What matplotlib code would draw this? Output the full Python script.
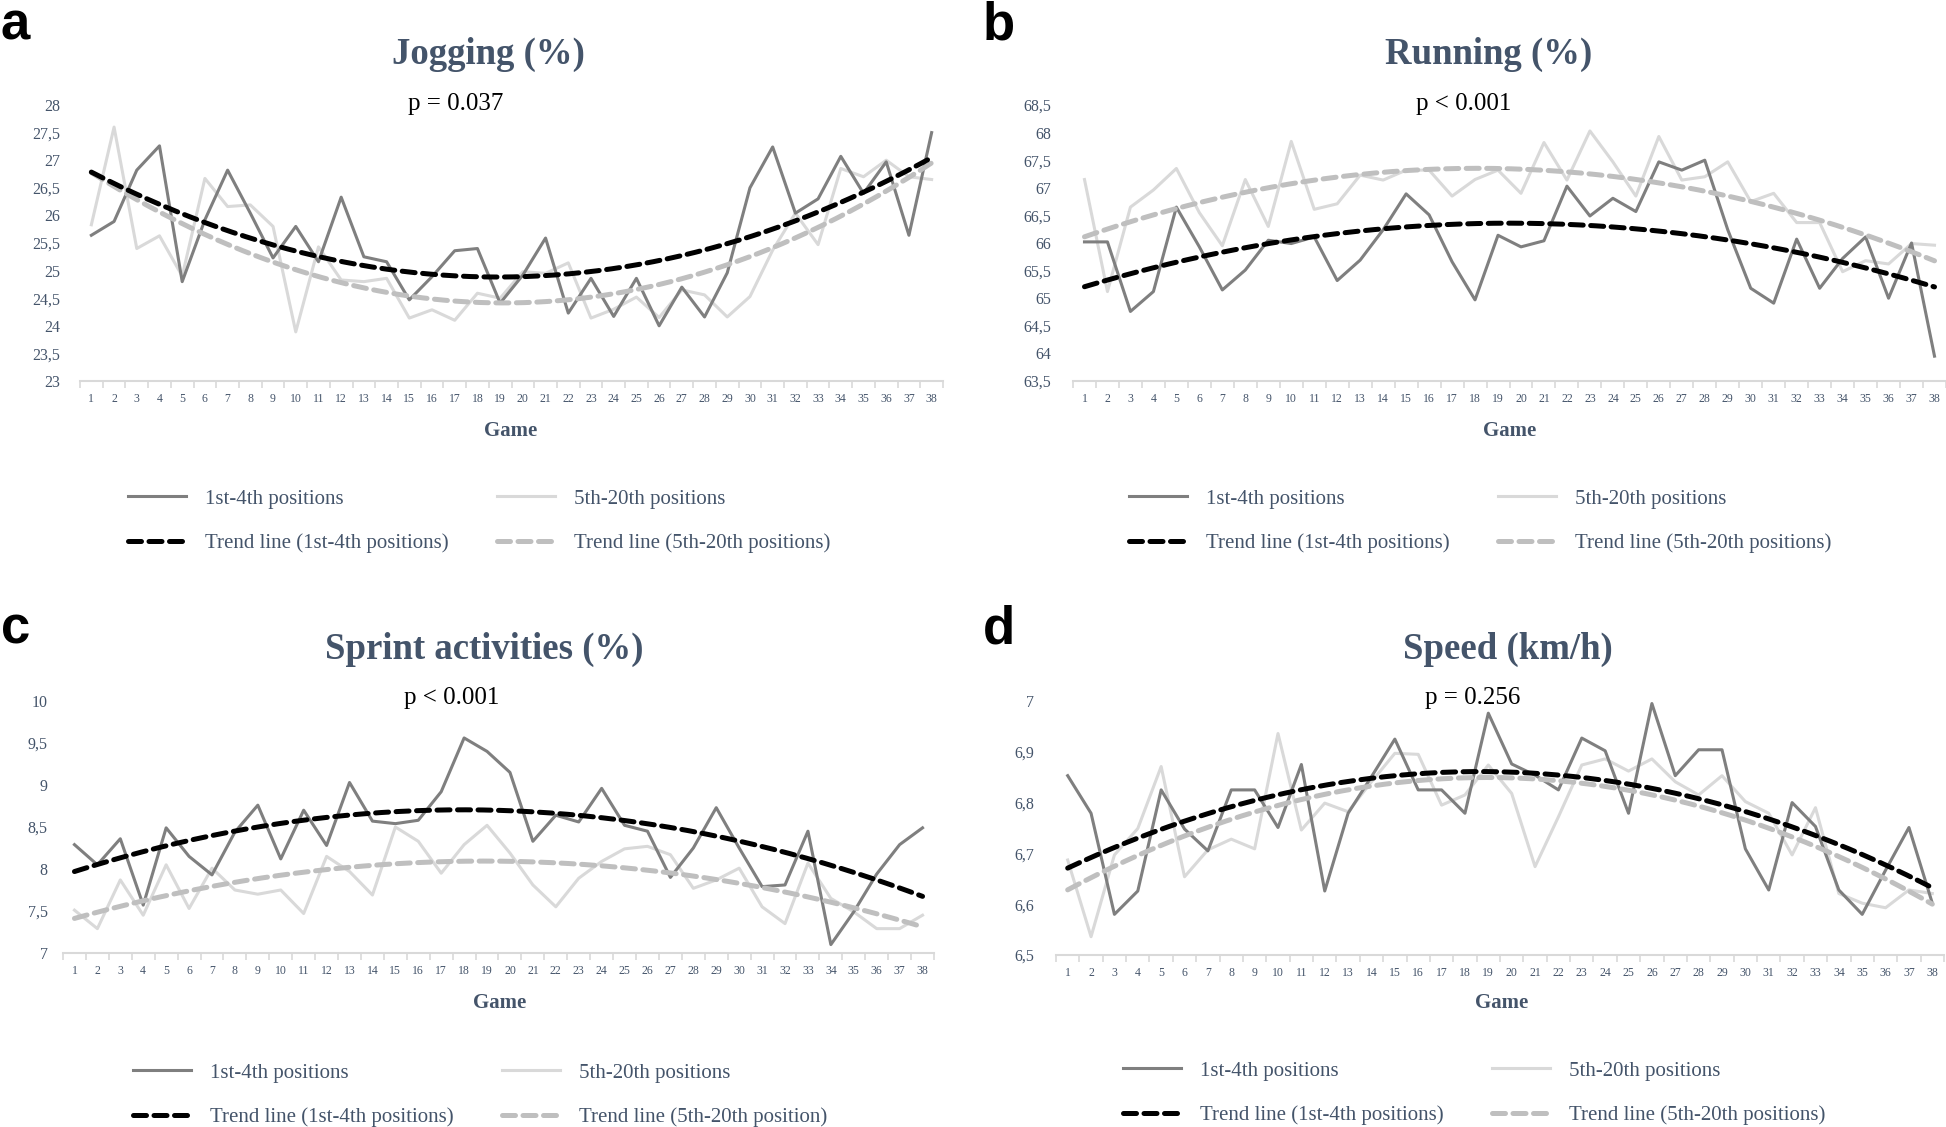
import numpy as np
import matplotlib
matplotlib.use("Agg")
import matplotlib.pyplot as plt
from matplotlib.ticker import FixedLocator

games = list(range(1, 39))

# jogging (%)
jog_top = [25.64, 25.89, 26.82, 27.26, 24.8, 25.92, 26.82, 26.04, 25.23, 25.8,
           25.16, 26.33, 25.25, 25.16, 24.47, 24.89, 25.36, 25.4, 24.41, 24.92,
           25.59, 24.23, 24.86, 24.17, 24.86, 24.0, 24.7, 24.16, 24.96, 26.5,
           27.24, 26.04, 26.3, 27.07, 26.4, 26.97, 25.64, 27.5]
jog_rest = [25.83, 27.6, 25.4, 25.63, 24.9, 26.67, 26.16, 26.19, 25.8, 23.89,
            25.43, 24.83, 24.8, 24.86, 24.14, 24.29, 24.1, 24.59, 24.5, 24.98,
            24.95, 25.14, 24.14, 24.3, 24.52, 24.15, 24.65, 24.56, 24.16, 24.53,
            25.37, 26.04, 25.47, 26.85, 26.7, 27.0, 26.7, 26.65]

# running (%)
run_top = [66.02, 66.02, 64.76, 65.12, 66.65, 65.93, 65.15, 65.51, 66.05, 65.99,
           66.11, 65.32, 65.69, 66.24, 66.89, 66.51, 65.66, 64.97, 66.14, 65.93,
           66.04, 67.03, 66.49, 66.81, 66.57, 67.47, 67.32, 67.5, 66.24, 65.18,
           64.91, 66.07, 65.18, 65.72, 66.11, 65.0, 66.0, 63.95]
run_rest = [67.15, 65.12, 66.65, 66.96, 67.35, 66.55, 65.95, 67.15, 66.3, 67.84,
            66.61, 66.71, 67.23, 67.14, 67.32, 67.32, 66.85, 67.15, 67.32, 66.9,
            67.82, 67.14, 68.03, 67.47, 66.85, 67.93, 67.14, 67.2, 67.47, 66.75,
            66.9, 66.37, 66.37, 65.48, 65.68, 65.62, 65.99, 65.96]

# sprint activities (%)
spr_top = [8.29, 8.05, 8.36, 7.57, 8.49, 8.15, 7.93, 8.44, 8.76, 8.12,
           8.7, 8.28, 9.03, 8.57, 8.54, 8.58, 8.92, 9.56, 9.4, 9.15,
           8.33, 8.64, 8.56, 8.96, 8.52, 8.45, 7.9, 8.25, 8.73, 8.25,
           7.79, 7.81, 8.45, 7.1, 7.49, 7.94, 8.29, 8.49]
spr_rest = [7.51, 7.29, 7.87, 7.45, 8.05, 7.53, 8.01, 7.75, 7.7, 7.75,
            7.47, 8.15, 7.97, 7.69, 8.5, 8.33, 7.95, 8.29, 8.52, 8.19,
            7.81, 7.55, 7.89, 8.09, 8.24, 8.27, 8.17, 7.77, 7.87, 8.01,
            7.55, 7.35, 8.07, 7.65, 7.49, 7.29, 7.29, 7.45]

# speed (km/h)
spd_top = [6.853, 6.779, 6.58, 6.626, 6.825, 6.748, 6.705, 6.825, 6.825, 6.751,
           6.875, 6.626, 6.779, 6.851, 6.925, 6.825, 6.825, 6.779, 6.976, 6.876,
           6.854, 6.825, 6.927, 6.902, 6.779, 6.995, 6.853, 6.904, 6.904, 6.709,
           6.628, 6.8, 6.753, 6.628, 6.58, 6.667, 6.751, 6.602]
spd_rest = [6.687, 6.536, 6.697, 6.749, 6.871, 6.654, 6.707, 6.728, 6.709, 6.936,
            6.746, 6.799, 6.782, 6.841, 6.897, 6.895, 6.795, 6.815, 6.874, 6.818,
            6.674, 6.772, 6.874, 6.886, 6.862, 6.886, 6.841, 6.815, 6.853, 6.802,
            6.779, 6.697, 6.79, 6.621, 6.602, 6.593, 6.628, 6.621]

jog_ticks = [23, 23.5, 24, 24.5, 25, 25.5, 26, 26.5, 27, 27.5, 28]
run_ticks = [63.5, 64, 64.5, 65, 65.5, 66, 66.5, 67, 67.5, 68, 68.5]
spr_ticks = [7, 7.5, 8, 8.5, 9, 9.5, 10]
spd_ticks = [6.5, 6.6, 6.7, 6.8, 6.9, 7]

W, H = 1946, 1127
SLATE = "#44546A"
SERIF = ["Liberation Serif", "DejaVu Serif"]
plt.rcParams["font.family"] = SERIF

fig = plt.figure(figsize=(W / 100, H / 100), dpi=100)


def fx(px):
    return px / W


def fy(py):
    return 1 - py / H


def panel(rect, top, rest, ticks, letter, letter_xy, title, title_xy, ptxt, p_xy,
          game_xy, leg_xy, leg_labels, ypad):
    ax = fig.add_axes([fx(rect[0]), fy(rect[3]), fx(rect[1] - rect[0]), (rect[3] - rect[2]) / H])
    x = np.array(games)
    xs = np.linspace(1, 38, 300)
    l1, = ax.plot(games, top, color="#7F7F7F", lw=2.2, zorder=3)
    l2, = ax.plot(games, rest, color="#D9D9D9", lw=2.2, zorder=2)
    # polynomial (order 2) trend lines, as in the original spreadsheet
    c1 = np.polyfit(x, top, 2)
    c2 = np.polyfit(x, rest, 2)
    t2, = ax.plot(xs, np.polyval(c2, xs), color="#BFBFBF", lw=3.6, dashes=(2.6, 1.5),
                  dash_capstyle="round", zorder=4)
    t1, = ax.plot(xs, np.polyval(c1, xs), color="black", lw=3.6, dashes=(2.6, 1.5),
                  dash_capstyle="round", zorder=5)

    ax.set_xlim(0.5, 38.5)
    ax.set_ylim(ticks[0], ticks[-1])
    ax.set_yticks(ticks)
    ax.set_yticklabels([("%g" % t).replace(".", ",") for t in ticks])
    ax.set_xticks(games)
    ax.set_xticklabels([str(g) for g in games])
    ax.xaxis.set_minor_locator(FixedLocator(np.arange(0.5, 39, 1)))
    ax.tick_params(axis="x", which="major", length=0, pad=9, labelsize=8.5, labelcolor=SLATE)
    ax.tick_params(axis="x", which="minor", length=5, color="#D9D9D9", width=1.2)
    ax.tick_params(axis="y", length=0, pad=ypad, labelsize=11.5, labelcolor=SLATE)
    for s in ["top", "right", "left"]:
        ax.spines[s].set_visible(False)
    ax.spines["bottom"].set_color("#D9D9D9")
    ax.spines["bottom"].set_linewidth(1.5)
    ax.set_facecolor("none")

    fig.text(fx(letter_xy[0]), fy(letter_xy[1]), letter, fontsize=38, fontweight="bold",
             family="Liberation Sans", ha="left", va="center")
    fig.text(fx(title_xy[0]), fy(title_xy[1]), title, fontsize=26.5, fontweight="bold",
             color=SLATE, ha="center", va="center")
    fig.text(fx(p_xy[0]), fy(p_xy[1]), ptxt, fontsize=18, color="black", ha="center", va="center")
    fig.text(fx(game_xy[0]), fy(game_xy[1]), "Game", fontsize=15, fontweight="bold",
             color=SLATE, ha="center", va="center")

    leg = ax.legend([l1, t1, l2, t2], leg_labels, ncol=2, loc="upper left",
                    bbox_to_anchor=(fx(leg_xy[0]), fy(leg_xy[1])), bbox_transform=fig.transFigure,
                    frameon=False, fontsize=15, handlelength=2.8, handletextpad=0.9,
                    columnspacing=2.3, labelspacing=1.18, borderpad=0, borderaxespad=0)
    for t in leg.get_texts():
        t.set_color(SLATE)
    return ax


panel((80, 943, 105, 381), jog_top, jog_rest, jog_ticks, "a", (1, 25),
      "Jogging (%)", (488, 54), "p = 0.037", (456, 104), (511, 431), (128, 489),
      ["1st-4th positions", "Trend line (1st-4th positions)",
       "5th-20th positions", "Trend line (5th-20th positions)"], 14)

panel((1073, 1946, 105, 381), run_top, run_rest, run_ticks, "b", (983, 25),
      "Running (%)", (1489, 54), "p < 0.001", (1464, 104), (1510, 431), (1129, 489),
      ["1st-4th positions", "Trend line (1st-4th positions)",
       "5th-20th positions", "Trend line (5th-20th positions)"], 16)

panel((63, 934, 701, 953), spr_top, spr_rest, spr_ticks, "c", (1, 630),
      "Sprint activities (%)", (484, 649), "p < 0.001", (452, 698), (500, 1003), (133, 1063),
      ["1st-4th positions", "Trend line (1st-4th positions)",
       "5th-20th positions", "Trend line (5th-20th position)"], 11)

panel((1056, 1944, 701, 955), spd_top, spd_rest, spd_ticks, "d", (983, 630),
      "Speed (km/h)", (1508, 649), "p = 0.256", (1473, 698), (1502, 1003), (1123, 1061),
      ["1st-4th positions", "Trend line (1st-4th positions)",
       "5th-20th positions", "Trend line (5th-20th positions)"], 16)

fig.savefig("out.png", dpi=100)
